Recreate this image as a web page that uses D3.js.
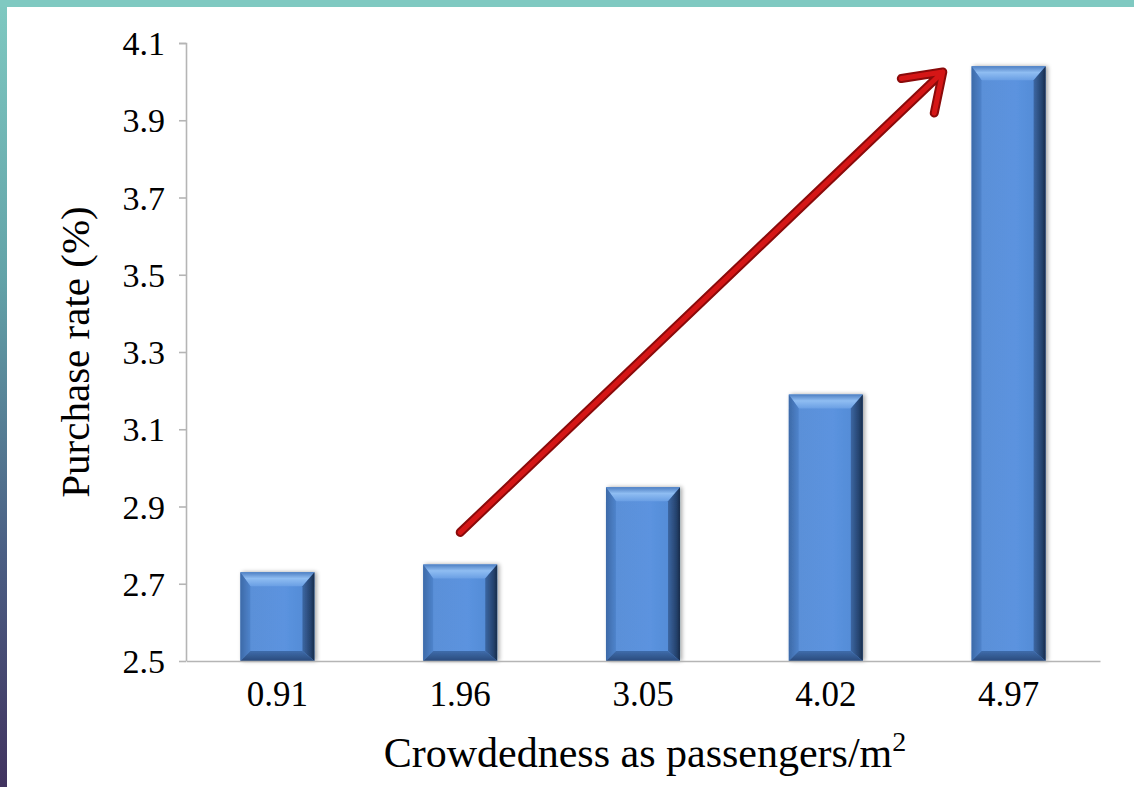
<!DOCTYPE html>
<html>
<head>
<meta charset="utf-8">
<script src="https://cdn.jsdelivr.net/npm/d3@7"></script>
<style>
  html, body { margin: 0; padding: 0; background: #ffffff; }
  svg { display: block; }
  text { font-family: "Liberation Serif", "Times New Roman", serif; fill: #000; }
</style>
</head>
<body>
<svg id="chart" width="1134" height="787"></svg>
<script>
// Crowdedness (passengers per m²) and purchase rate (%)
const categories = ["0.91", "1.96", "3.05", "4.02", "4.97"];
const purchaseRate = [2.73, 2.75, 2.95, 3.19, 4.04];
const yTicks = [2.5, 2.7, 2.9, 3.1, 3.3, 3.5, 3.7, 3.9, 4.1];
// Trend arrow, in (category index, purchase rate) units
const trendStart = [1, 2.833];
const trendEnd = [3.64, 4.025];

const W = 1134, H = 787;
const svg = d3.select("#chart");
const defs = svg.append("defs");

// Slide frame: teal band on top, gradient band on the left
const frameGrad = defs.append("linearGradient")
  .attr("id", "frameGrad").attr("x1", 0).attr("y1", 0).attr("x2", 0).attr("y2", 1);
frameGrad.append("stop").attr("offset", "0%").attr("stop-color", "#7fc9c1");
frameGrad.append("stop").attr("offset", "35%").attr("stop-color", "#63a3a8");
frameGrad.append("stop").attr("offset", "70%").attr("stop-color", "#4b5f84");
frameGrad.append("stop").attr("offset", "100%").attr("stop-color", "#41335f");
svg.append("rect").attr("x", 0).attr("y", 0).attr("width", 7).attr("height", H).attr("fill", "url(#frameGrad)");
svg.append("rect").attr("x", 0).attr("y", 0).attr("width", W).attr("height", 7).attr("fill", "#7fc9c1");

const margin = { left: 186, right: 34, top: 43, bottom: 126 };
const plotW = W - margin.left - margin.right;
const plotH = H - margin.top - margin.bottom;

const g = svg.append("g").attr("transform", `translate(${margin.left},${margin.top})`);

const x = d3.scaleBand().domain(categories).range([0, plotW]).paddingInner(0.595).paddingOuter(0.2975);
const y = d3.scaleLinear().domain([2.5, 4.1]).range([plotH, 0]);
const xIdx = d3.scaleLinear().domain([0, categories.length - 1])
  .range([x(categories[0]) + x.bandwidth() / 2, x(categories[categories.length - 1]) + x.bandwidth() / 2]);

// Bevel gradients
function grad(id, x2, y2, stops) {
  const lg = defs.append("linearGradient").attr("id", id)
    .attr("x1", 0).attr("y1", 0).attr("x2", x2).attr("y2", y2);
  stops.forEach(s => lg.append("stop").attr("offset", s[0]).attr("stop-color", s[1]));
}
grad("faceG", 1, 0, [["0%", "#5a8fd6"], ["60%", "#5b93df"], ["100%", "#5088d2"]]);
grad("topG", 0, 1, [["0%", "#4e7fc2"], ["45%", "#8fbdf2"], ["100%", "#6a9fe4"]]);
grad("leftG", 1, 0, [["0%", "#3d6aa8"], ["100%", "#4f84cc"]]);
grad("rightG", 1, 0, [["0%", "#3c67a3"], ["70%", "#25426d"], ["100%", "#182c4a"]]);
grad("bottomG", 0, 1, [["0%", "#3f6cab"], ["100%", "#2a4b7c"]]);

const shadow = defs.append("filter").attr("id", "barShadow")
  .attr("x", "-20%").attr("y", "-10%").attr("width", "150%").attr("height", "130%");
shadow.append("feGaussianBlur").attr("in", "SourceAlpha").attr("stdDeviation", 2).attr("result", "b");
shadow.append("feOffset").attr("in", "b").attr("dx", 2).attr("dy", 0).attr("result", "o");
shadow.append("feComponentTransfer").attr("in", "o").attr("result", "s")
  .append("feFuncA").attr("type", "linear").attr("slope", 0.35);
const fm = shadow.append("feMerge");
fm.append("feMergeNode").attr("in", "s");
fm.append("feMergeNode").attr("in", "SourceGraphic");

// Axes
const axisColor = "#b5b5b5";
const yAxis = g.append("g").call(d3.axisLeft(y).tickValues(yTicks).tickSize(7).tickPadding(14).tickFormat(d3.format(".1f")));
yAxis.select(".domain").attr("stroke", axisColor).attr("stroke-width", 1.6).attr("d", `M-7,0.5H0.5V${plotH}`);
yAxis.selectAll(".tick line").attr("stroke", axisColor).attr("stroke-width", 1.6);
yAxis.selectAll(".tick text").style("font-family", '"Liberation Serif", serif').attr("font-size", 34).attr("fill", "#000").attr("dy", "0.34em");

// Bars with bevelled faces
const bars = g.append("g").selectAll("g.bar")
  .data(categories.map((c, i) => ({ c, v: purchaseRate[i] })))
  .join("g").attr("class", "bar").attr("filter", "url(#barShadow)");

bars.each(function (d) {
  const sel = d3.select(this);
  const x0 = x(d.c), x1 = x0 + x.bandwidth();
  const y0 = y(d.v), y1 = y(2.5);
  const bt = 14, bl = 10, br = 12, bb = 10;
  const poly = pts => pts.map(p => p.join(",")).join(" ");
  sel.append("rect").attr("x", x0).attr("y", y0).attr("width", x1 - x0).attr("height", y1 - y0).attr("fill", "url(#faceG)");
  sel.append("polygon").attr("points", poly([[x0, y0], [x1, y0], [x1 - br, y0 + bt], [x0 + bl, y0 + bt]])).attr("fill", "url(#topG)");
  sel.append("polygon").attr("points", poly([[x0, y0], [x0 + bl, y0 + bt], [x0 + bl, y1 - bb], [x0, y1]])).attr("fill", "url(#leftG)");
  sel.append("polygon").attr("points", poly([[x1, y0], [x1, y1], [x1 - br, y1 - bb], [x1 - br, y0 + bt]])).attr("fill", "url(#rightG)");
  sel.append("polygon").attr("points", poly([[x0, y1], [x0 + bl, y1 - bb], [x1 - br, y1 - bb], [x1, y1]])).attr("fill", "url(#bottomG)");
});

// X axis baseline and category labels
const xAxis = g.append("g").attr("transform", `translate(0,${plotH})`)
  .call(d3.axisBottom(x).tickSize(0).tickPadding(20));
xAxis.select(".domain").attr("stroke", axisColor).attr("stroke-width", 1.6);
xAxis.selectAll(".tick text").style("font-family", '"Liberation Serif", serif').attr("font-size", 35).attr("fill", "#000");

// Axis titles
g.append("text")
  .attr("x", plotW / 2 + 2).attr("y", plotH + 106)
  .attr("text-anchor", "middle").attr("font-size", 42)
  .html('Crowdedness as passengers/m<tspan dy="-16" font-size="28">2</tspan>');

g.append("text")
  .attr("transform", `translate(${-97},${y(3.3)}) rotate(-90)`)
  .attr("text-anchor", "middle").attr("font-size", 41)
  .text("Purchase rate (%)");

// Trend arrow
const ax0 = xIdx(trendStart[0]), ay0 = y(trendStart[1]);
const ax1 = xIdx(trendEnd[0]), ay1 = y(trendEnd[1]);
const ang = Math.atan2(ay1 - ay0, ax1 - ax0);
const headLen = 42, headAng = Math.PI / 5.2;
const hp1 = [ax1 - headLen * Math.cos(ang - headAng), ay1 - headLen * Math.sin(ang - headAng)];
const hp2 = [ax1 - headLen * Math.cos(ang + headAng), ay1 - headLen * Math.sin(ang + headAng)];
const arrowPath = `M${ax0},${ay0}L${ax1},${ay1}M${hp1[0]},${hp1[1]}L${ax1},${ay1}L${hp2[0]},${hp2[1]}`;
const arrow = g.append("g");
arrow.append("path").attr("d", arrowPath).attr("fill", "none")
  .attr("stroke", "#8a0a0a").attr("stroke-width", 9).attr("stroke-linecap", "round").attr("stroke-linejoin", "round");
arrow.append("path").attr("d", arrowPath).attr("fill", "none")
  .attr("stroke", "#d51616").attr("stroke-width", 5).attr("stroke-linecap", "round").attr("stroke-linejoin", "round");
</script>
</body>
</html>
